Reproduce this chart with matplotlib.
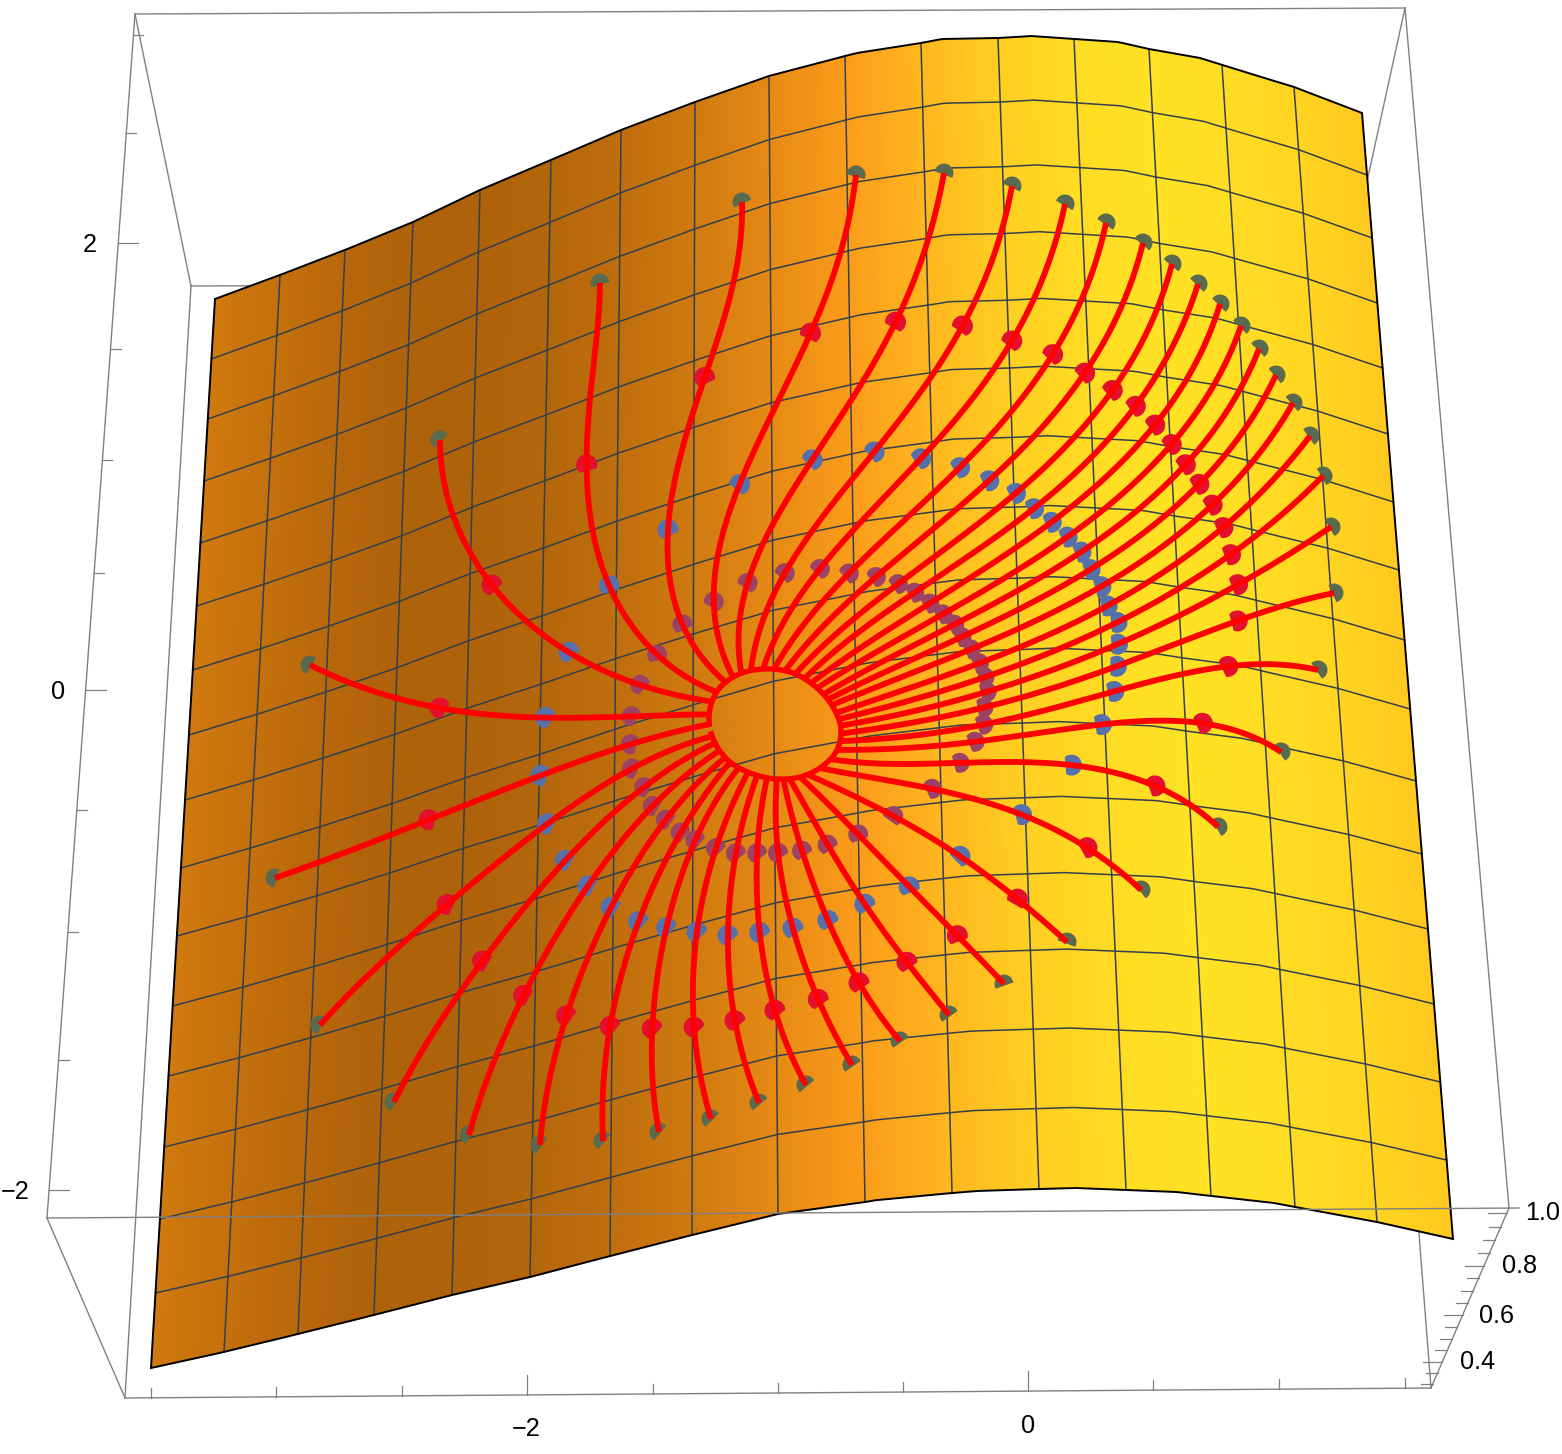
import numpy as np
import matplotlib
matplotlib.use("Agg")
import matplotlib.pyplot as plt
from matplotlib.colors import LinearSegmentedColormap

plt.rcParams['font.family'] = ['Liberation Sans', 'DejaVu Sans']

# surface outline in pixels
top_u = [0, 1, 2, 3, 4, 5, 6, 7, 8, 9, 9.16, 10, 10.27, 11, 11.43, 12, 12.58, 13, 13.69, 14, 15, 16]
top_x = [215, 280, 345, 413, 480, 551, 621, 695, 769, 845, 857, 921, 942, 998, 1031, 1074, 1118, 1149, 1200, 1222, 1294, 1362]
top_y = [299, 275, 250, 222, 190, 160, 130, 102, 76, 56, 53, 43, 39, 38, 36, 39, 42, 49, 58, 65, 87, 113]
bot_u = [0, 1, 2, 3, 4, 5, 6, 7, 8, 9, 9.14, 10, 10.29, 11, 11.43, 12, 12.6, 13, 13.75, 14, 15, 16]
bot_x = [151, 224, 298, 374, 452, 530, 610, 692, 778, 865, 877, 952, 977, 1039, 1076, 1126, 1177, 1211, 1274, 1295, 1377, 1453]
bot_y = [1368, 1352, 1334, 1315, 1295, 1277, 1256, 1235, 1214, 1202, 1200, 1193, 1191, 1189, 1188, 1190, 1192, 1196, 1203, 1207, 1222, 1239]
left_y = [299, 359, 419, 481, 543, 606, 670, 735, 800, 868, 936, 1006, 1076, 1147, 1219, 1293, 1368]
right_y = [113, 175, 238, 303, 368, 434, 502, 570, 640, 709, 781, 854, 929, 1004, 1082, 1160, 1239]
col_colors = ['#d07a0e', '#c4700c', '#b8680b', '#ae620a', '#ae620a', '#b4660b', '#bf6e0d', '#cf7a10',
              '#e68a14', '#fb9c1a', '#ffb71f', '#ffcf22', '#ffdc23', '#ffe224', '#ffdd23', '#ffd521', '#ffc91f']

# stream lines, outer end -> rim, one entry per line
outer = [(310, 665), (440, 440), (600, 283), (742, 202), (856, 175), (944, 173), (1012, 186), (1065, 204),
         (1106, 223), (1143, 243), (1172, 264), (1198, 284), (1220, 304), (1241, 326), (1259, 349), (1276, 375),
         (1293, 403), (1310, 436), (1323, 476), (1331, 527), (1334, 593), (1318, 670), (1281, 752), (1218, 827),
         (1141, 890), (1067, 942), (1004, 984), (949, 1015), (900, 1041), (852, 1065), (806, 1085), (759, 1103),
         (711, 1119), (659, 1132), (603, 1141), (540, 1145), (469, 1135), (394, 1102), (320, 1025), (275, 878)]
reds = [(441, 708), (492, 585), (587, 466), (705, 377), (810, 333), (894, 322), (961, 326), (1011, 340),
        (1052, 354), (1084, 373), (1112, 390), (1134, 407), (1154, 426), (1171, 445), (1186, 464), (1199, 484),
        (1212, 505), (1222, 528), (1230, 555), (1237, 585), (1237, 620), (1228, 665), (1203, 722), (1155, 786),
        (1087, 848), (1017, 899), (957, 935), (907, 962), (859, 983), (818, 999), (775, 1011), (735, 1021),
        (694, 1027), (652, 1029), (610, 1027), (566, 1016), (523, 996), (482, 961), (447, 904), (428, 820)]
blues = [(546, 718), (568, 652), (609, 587), (668, 529), (741, 484), (815, 460), (875, 454), (923, 459),
         (960, 469), (990, 481), (1015, 495), (1035, 509), (1052, 522), (1066, 538), (1080, 553), (1090, 570),
         (1101, 587), (1108, 606), (1116, 623), (1118, 644), (1118, 667), (1114, 693), (1101, 726), (1072, 765),
         (1021, 814), (960, 856), (909, 887), (865, 905), (828, 920), (793, 928), (760, 933), (728, 935),
         (697, 932), (667, 928), (639, 921), (612, 907), (588, 887), (566, 861), (549, 824), (540, 776)]
purples = [(632, 716), (641, 685), (657, 654), (682, 625), (712, 601), (745, 583), (783, 573), (818, 569),
           (849, 572), (876, 576), (897, 584), (914, 592), (930, 603), (943, 614), (953, 625), (961, 637),
           (971, 649), (979, 663), (985, 677), (986, 692), (983, 707), (982, 724), (975, 741), (959, 763),
           (932, 789), (893, 816), (858, 834), (828, 845), (802, 851), (778, 853), (757, 854), (736, 853),
           (716, 848), (695, 840), (681, 832), (665, 820), (652, 806), (643, 787), (631, 768), (631, 744)]
rim = [(709, 715), (712, 702), (717, 692), (725, 680), (732, 675), (741, 671), (751, 668), (762, 667),
       (775, 667), (787, 668), (797, 671), (806, 675), (813, 680), (820, 685), (826, 691), (831, 697),
       (835, 704), (838, 711), (840, 718), (841, 726), (841, 733), (841, 741), (839, 750), (832, 761),
       (822, 769), (807, 775), (800, 778), (790, 779), (783, 780), (776, 780), (767, 780), (756, 778),
       (746, 775), (736, 771), (727, 765), (722, 760), (717, 752), (713, 745), (710, 737), (709, 726)]
rim_outline = [(709, 717), (718, 690), (737, 675), (763, 669), (793, 673), (817, 688), (833, 707), (841, 730),
               (837, 750), (820, 768), (800, 777), (777, 779), (750, 773), (730, 762), (715, 743)]
# which way the round side of the caps faces, degrees
cap_angle = [150, 135, 105, 115, 75, 70, 65, 60, 55, 50, 50, 45, 45, 45, 45, 40, 40, 35, 30, 30,
             25, 35, 35, 30, 40, 70, 110, 125, 125, 125, 130, 130, 135, 140, 140, 145, 150, 150, 155, 165]

# tick marks of the box
z_left_y = [35, 133, 243, 349, 460, 573, 690, 810, 932, 1060, 1190]
z_left_major = [243, 690, 1190]
x_bottom = [151, 276, 402, 527, 653, 778, 903, 1028, 1153, 1279, 1405]
x_major = [527, 1028]
right_ticks_y = [1384, 1373, 1362, 1350, 1339, 1327, 1315, 1303, 1291, 1278, 1266, 1253, 1240, 1227, 1213]
right_major = [1362, 1315, 1266, 1213]

fig = plt.figure(figsize=(15.62, 14.54), dpi=100)
ax = fig.add_axes([0, 0, 1, 1])
ax.set_xlim(0, 1562)
ax.set_ylim(1454, 0)
ax.axis('off')


def hermite(pts, n=12):
    pts = np.array(pts, dtype=float)
    d = np.sqrt(((pts[1:] - pts[:-1]) ** 2).sum(axis=1))
    t = np.r_[0, np.cumsum(d)]
    m = np.gradient(pts, t, axis=0)
    out = []
    for i in range(len(pts) - 1):
        s = np.linspace(0, 1, n)[:, None]
        a = 2 * s**3 - 3 * s**2 + 1
        b = s**3 - 2 * s**2 + s
        c = -2 * s**3 + 3 * s**2
        e = s**3 - s**2
        out.append(a * pts[i] + b * d[i] * m[i] + c * pts[i + 1] + e * d[i] * m[i + 1])
    return np.vstack(out)


# closed rim curve, tripled so the middle has no end effects
rim_curve = hermite(rim_outline * 3)
n_rim = len(rim_curve) // 3
rim_curve = rim_curve[n_rim:2 * n_rim + 1]


def snap_to_rim(p):
    dd = ((rim_curve - np.array(p)) ** 2).sum(axis=1)
    return tuple(rim_curve[dd.argmin()])


def flow_line(pts):
    # half cubic fit, half exact quartic: keeps the bends, loses the wiggle
    pts = np.array(pts, dtype=float)
    d = np.sqrt(((pts[1:] - pts[:-1]) ** 2).sum(axis=1))
    t = np.r_[0, np.cumsum(d)] / d.sum()
    w = [20, 1.5, 1.5, 1.5, 20]
    tt = np.linspace(0, 1, 200)
    curve = []
    for c in (0, 1):
        cub = np.polyval(np.polyfit(t, pts[:, c], 3, w=w), tt)
        qua = np.polyval(np.polyfit(t, pts[:, c], 4), tt)
        curve.append(0.5 * cub + 0.5 * qua)
    return curve[0], curve[1]


def on_line(p, x, y):
    i = ((x - p[0]) ** 2 + (y - p[1]) ** 2).argmin()
    return x[i], y[i]


def cap(cx, cy, r, a, half, col):
    # disc with one side cut off straight, y axis is flipped
    th = np.radians(np.linspace(a - half, a + half, 24))
    ax.fill(cx + r * np.cos(th), cy - r * np.sin(th), color=col, lw=0, zorder=5)


def surface(u, v):
    # blend the four edges of the sheet
    idx = np.arange(len(left_y))
    tx, ty = np.interp(u, top_u, top_x), np.interp(u, top_u, top_y)
    bx, by = np.interp(u, bot_u, bot_x), np.interp(u, bot_u, bot_y)
    ly, ry = np.interp(v, idx, left_y), np.interp(v, idx, right_y)
    lx = top_x[0] + (bot_x[0] - top_x[0]) * (ly - top_y[0]) / (bot_y[0] - top_y[0])
    rx = top_x[-1] + (bot_x[-1] - top_x[-1]) * (ry - top_y[-1]) / (bot_y[-1] - top_y[-1])
    p, q = u / 16.0, v / 16.0
    x = (1 - q) * tx + q * bx + (1 - p) * lx + p * rx - (
        (1 - p) * (1 - q) * top_x[0] + p * (1 - q) * top_x[-1] + (1 - p) * q * bot_x[0] + p * q * bot_x[-1])
    y = (1 - q) * ty + q * by + (1 - p) * ly + p * ry - (
        (1 - p) * (1 - q) * top_y[0] + p * (1 - q) * top_y[-1] + (1 - p) * q * bot_y[0] + p * q * bot_y[-1])
    return x, y


# box behind the sheet
box_col = '#808080'
back_lines = [((135, 1405), (14, 8)), ((135, 47), (14, 1218)), ((1405, 1509), (8, 1208)),
              ((135, 191), (14, 286)), ((1405, 1345), (8, 282)), ((191, 1345), (286, 282)),
              ((191, 125), (286, 1398)), ((1345, 1431), (282, 1388)), ((47, 125), (1218, 1398)),
              ((1509, 1431), (1208, 1388)), ((125, 1431), (1398, 1388))]
for xs, ys in back_lines:
    ax.plot(xs, ys, color=box_col, lw=1.0, zorder=1)

for y in z_left_y:
    x0 = 135 - 88 * (y - 14) / 1204.0
    ax.plot([x0, x0 + (20 if y in z_left_major else 10)], [y, y], color=box_col, lw=0.9, zorder=1)
for x in x_bottom:
    y0 = 1398 - 10 * (x - 125) / 1306.0
    ax.plot([x, x], [y0, y0 - (20 if x in x_major else 10)], color=box_col, lw=0.9, zorder=1)
for y in right_ticks_y:
    x0 = 1431 + 78 * (1388 - y) / 180.0
    ax.plot([x0, x0 - (19 if y in right_major else 12)], [y, y], color=box_col, lw=0.9, zorder=1)

# the sheet
cm = LinearSegmentedColormap.from_list('sheet', col_colors, N=512)
uu, vv = np.meshgrid(np.linspace(0, 16, 257), np.linspace(0, 16, 129))
X, Y = surface(uu, vv)
ax.pcolormesh(X, Y, uu, cmap=cm, vmin=0, vmax=16, shading='gouraud', zorder=2)

fine = np.linspace(0, 16, 257)
grid_col = '#34404c'
for i in range(1, 16):
    x, y = surface(np.full_like(fine, i), fine)
    ax.plot(x, y, color=grid_col, lw=1.1, zorder=3)
    x, y = surface(fine, np.full_like(fine, i))
    ax.plot(x, y, color=grid_col, lw=1.1, zorder=3)
ex, ey = [], []
for a, b in [(fine, np.zeros_like(fine)), (np.full_like(fine, 16.0), fine),
             (fine[::-1], np.full_like(fine, 16.0)), (np.zeros_like(fine), fine[::-1])]:
    x, y = surface(a, b)
    ex.extend(x)
    ey.extend(y)
ax.plot(ex, ey, color='black', lw=1.4, zorder=4, solid_joinstyle='miter')

# back bottom edge shows through the sheet
ax.plot([47, 1519], [1218, 1208], color=box_col, lw=1.0, zorder=4)

# markers and flow lines
for k in range(len(outer)):
    ang = cap_angle[k]
    x, y = flow_line([outer[k], reds[k], blues[k], purples[k], snap_to_rim(rim[k])])
    ax.plot(x, y, color='#ff0000', lw=4.2, zorder=6, solid_capstyle='butt')
    for pts, col, r, half, turn in ((outer, '#5a6a4e', 9.5, 100, 0), (reds, '#e2102e', 10.5, 125, -10),
                                    (blues, '#5670ac', 10.5, 125, -25), (purples, '#9c4264', 10, 125, -15)):
        a = ang + (turn if ang < 90 else 0)
        cx, cy = on_line(pts[k], x, y)
        cap(cx, cy, r, a, half, col)

ax.plot(rim_curve[:, 0], rim_curve[:, 1], color='#ff0000', lw=3.9, zorder=6)

# tick labels
lab = dict(color='black', fontsize=18.2, ha='center', va='center', zorder=7)
ax.text(90, 245, '2', **lab)
ax.text(58, 692, '0', **lab)
ax.text(15, 1192, '\u22122', **lab)
ax.text(526, 1429, '\u22122', **lab)
ax.text(1028, 1426, '0', **lab)
ax.text(1543, 1213, '1.0', **lab)
ax.text(1520, 1266, '0.8', **lab)
ax.text(1497, 1316, '0.6', **lab)
ax.text(1478, 1362, '0.4', **lab)

fig.savefig('out.png', dpi=100)
